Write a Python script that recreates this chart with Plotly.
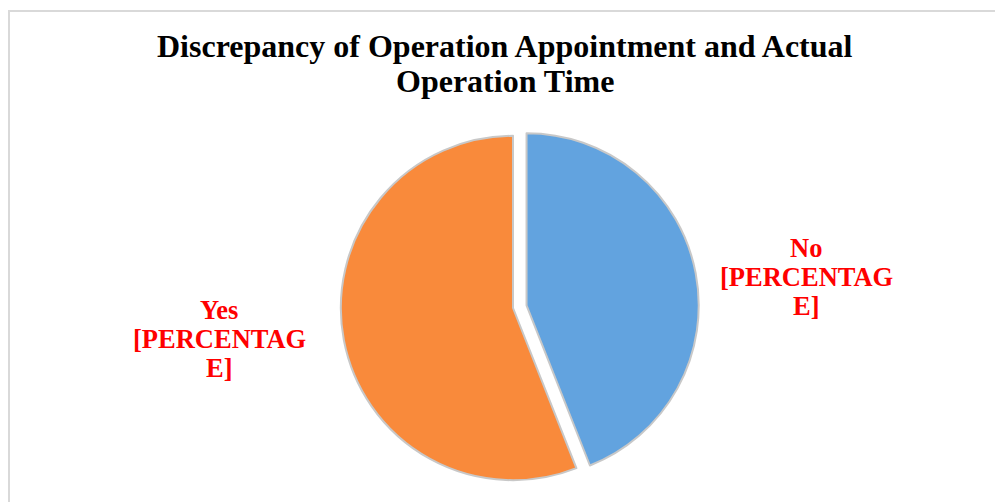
import plotly.graph_objects as go

# slice data
labels = ["No", "Yes"]
values = [44, 56]
label_lines = [["No", "[PERCENTAG", "E]"], ["Yes", "[PERCENTAG", "E]"]]
colors = ["#62A3DF", "#F98A3B"]
pulls = [0.08, 0]
title_lines = ["Discrepancy of Operation Appointment and Actual", "Operation Time"]

W, H = 1003, 502
SERIF = "Liberation Serif, Times New Roman, serif"

fig = go.Figure(go.Pie(
    labels=labels, values=values, textinfo="none",
    marker=dict(colors=colors, line=dict(color="#C8C8C8", width=2)),
    pull=pulls, sort=False, direction="clockwise", rotation=0,
    showlegend=False, hoverinfo="label+value",
    domain=dict(x=[0.3181, 0.6889], y=[0.0319, 0.7729]),
))

# the page body adds ~8px, positions below are in figure pixels
def fx(px):
    return px / W

def fy(py):
    return 1 - py / H

# title, one annotation per line to keep the tight line spacing
for i, line in enumerate(title_lines):
    fig.add_annotation(text=f"<b>{line}</b>", x=fx(497), y=fy(38 + 35 * i),
                       xref="paper", yref="paper", showarrow=False,
                       xanchor="center", yanchor="middle",
                       font=dict(family=SERIF, size=32, color="black"))

# outside slice labels (red, bold), positioned like the original
label_pos = [(798, 240), (211, 302)]
for (lx, ly), lines in zip(label_pos, label_lines):
    for i, line in enumerate(lines):
        fig.add_annotation(text=f"<b>{line}</b>", x=fx(lx), y=fy(ly + 29 * i),
                           xref="paper", yref="paper", showarrow=False,
                           xanchor="center", yanchor="middle",
                           font=dict(family=SERIF, size=26.5, color="#FF0000"))

# light grey chart frame (runs off the right and bottom of the picture)
fig.add_shape(type="rect", xref="paper", yref="paper",
              x0=fx(1), x1=1.01, y0=-0.01, y1=fy(3),
              line=dict(color="#D9D9D9", width=2), fillcolor="rgba(0,0,0,0)")

fig.update_layout(
    width=W, height=H,
    margin=dict(l=0, r=0, t=0, b=0),
    paper_bgcolor="white", plot_bgcolor="white",
)

fig.write_html("out.html")
